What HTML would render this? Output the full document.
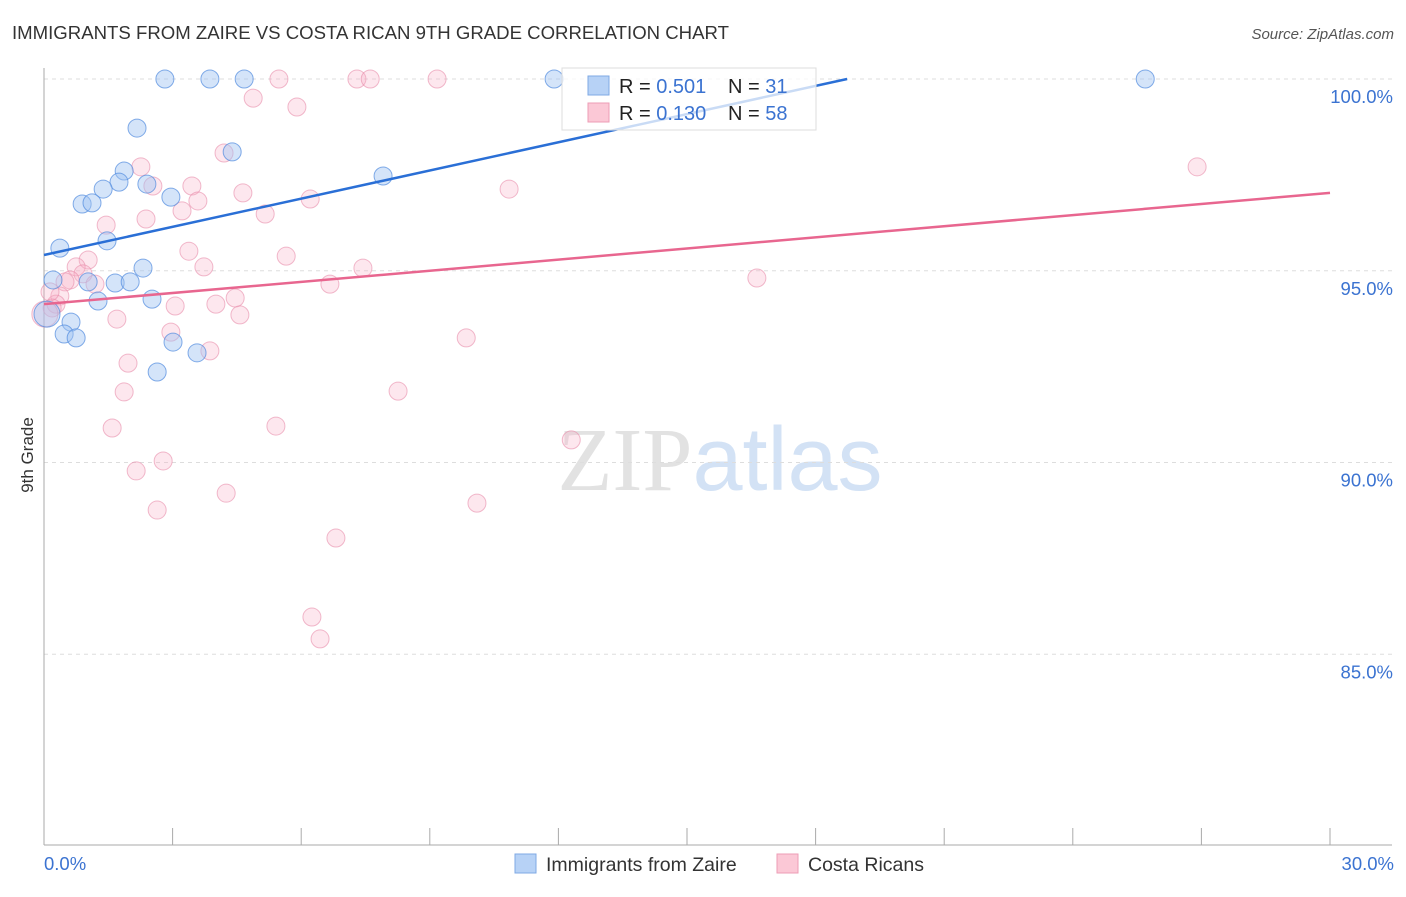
<!DOCTYPE html>
<html><head><meta charset="utf-8"><style>
body{margin:0;background:#fff;font-family:"Liberation Sans",sans-serif;}
svg text{font-family:"Liberation Sans",sans-serif;}
</style></head><body>
<svg id="chart" width="1406" height="892" xmlns="http://www.w3.org/2000/svg">
<text x="12" y="39" font-size="18.6" fill="#333">IMMIGRANTS FROM ZAIRE VS COSTA RICAN 9TH GRADE CORRELATION CHART</text>
<text x="1394" y="39" font-size="15" fill="#555" text-anchor="end" font-style="italic">Source: ZipAtlas.com</text>
<text x="720" y="490" font-size="90" text-anchor="middle"><tspan fill="#e2e2e2" font-family="Liberation Serif">ZIP</tspan><tspan fill="#d3e2f5">atlas</tspan></text>
<g id="grid"></g><g id="axes"></g><g id="pts"></g><g id="trend"></g>
<text transform="translate(33,455) rotate(-90)" font-size="17" fill="#333" text-anchor="middle">9th Grade</text>
<g>
<rect x="562" y="68" width="254" height="62" fill="#fff" fill-opacity="0.75" stroke="#ddd"/>
<rect x="588" y="76" width="21" height="19" fill="#b7d2f6" stroke="#7fa9e4"/>
<rect x="588" y="103" width="21" height="19" fill="#fbc8d6" stroke="#ee9db6"/>
<text x="619" y="93" font-size="20" fill="#222">R = <tspan fill="#3b73d1">0.501</tspan></text>
<text x="728" y="93" font-size="20" fill="#222">N = <tspan fill="#3b73d1"> 31</tspan></text>
<text x="619" y="120" font-size="20" fill="#222">R = <tspan fill="#3b73d1">0.130</tspan></text>
<text x="728" y="120" font-size="20" fill="#222">N = <tspan fill="#3b73d1">58</tspan></text>
</g>
<g>
<rect x="515" y="854" width="21" height="19" fill="#b7d2f6" stroke="#7fa9e4"/>
<text x="546" y="871" font-size="19.5" fill="#333">Immigrants from Zaire</text>
<rect x="777" y="854" width="21" height="19" fill="#fbc8d6" stroke="#ee9db6"/>
<text x="808" y="871" font-size="19.5" fill="#333">Costa Ricans</text>
</g>
</svg>
<script>
const blueX=[2.82,3.87,4.67,11.9,25.69,2.17,4.39,1.87,1.75,2.40,1.38,2.96,7.91,0.89,1.12,1.47,0.37,2.31,0.21,1.03,1.66,2.01,1.26,2.52,0.63,0.47,0.75,3.01,3.57,2.64,0.07];
const blueY=[100,100,100,100,100,98.72,98.10,97.60,97.31,97.26,97.13,96.92,97.47,96.74,96.77,95.78,95.59,95.07,94.76,94.71,94.68,94.71,94.21,94.26,93.66,93.35,93.25,93.14,92.86,92.36,93.87];
const pinkX=[5.48,7.30,7.61,9.17,4.88,5.90,26.90,2.26,4.20,2.54,3.45,4.64,10.85,3.59,6.21,3.22,5.16,2.38,1.45,3.38,5.65,1.03,3.73,7.44,0.75,0.91,0.61,0.49,1.19,0.37,16.63,6.67,4.46,4.01,3.06,0.28,4.57,1.70,2.96,9.85,3.87,1.96,1.87,8.26,5.41,1.59,12.30,2.78,2.15,4.25,10.10,2.64,6.81,6.25,6.44,0.14,0.19,0.02];
const pinkY=[100,100,100,100,99.50,99.27,97.71,97.71,98.07,97.21,97.21,97.03,97.13,96.82,96.87,96.56,96.48,96.35,96.19,95.51,95.38,95.28,95.10,95.07,95.10,94.92,94.76,94.71,94.65,94.34,94.81,94.65,94.29,94.13,94.08,94.13,93.85,93.74,93.40,93.25,92.91,92.59,91.84,91.86,90.95,90.90,90.59,90.04,89.78,89.20,88.94,88.76,88.03,85.97,85.40,94.45,94.03,93.87];
const yTicks=[100,95,90,85];
const yTickLabels=["100.0%","95.0%","90.0%","85.0%"];
const xTicks=[0,3,6,9,12,15,18,21,24,27,30];
const blueTrend=[95.41,0.245];
const pinkTrend=[94.13,0.0967];
const NS="http://www.w3.org/2000/svg";
const sx=v=>44+v/30*1286, sy=v=>79+(100-v)*38.35;
function mk(t,a,p){const e=document.createElementNS(NS,t);for(const k in a)e.setAttribute(k,a[k]);p.appendChild(e);return e;}
const grid=document.getElementById('grid'),axes=document.getElementById('axes'),pts=document.getElementById('pts'),tr=document.getElementById('trend');
yTicks.forEach((v,i)=>{
 const l=mk('line',{x1:44,x2:1392,y1:sy(v),y2:sy(v),stroke:'#ddd','stroke-dasharray':'4,4'},grid);
 
 
 const t=mk('text',{x:1393,y:sy(v)+24,'font-size':18.5,fill:'#3b73d1','text-anchor':'end'},axes);
 t.textContent=yTickLabels[i];
 
 
});
const ya=mk('line',{x1:44,x2:44,y1:68,y2:845,stroke:'#aaa'},axes);


const xa=mk('line',{x1:44,x2:1392,y1:845,y2:845,stroke:'#aaa'},axes);


xTicks.forEach(v=>{const l=mk('line',{x1:sx(v),x2:sx(v),y1:828,y2:845,stroke:'#aaa'},axes);
 
 });
[[0,'0.0%','start',44],[30,'30.0%','end',1394]].forEach(d=>{const t=mk('text',{x:d[3],y:870,'font-size':18.5,fill:'#3b73d1','text-anchor':d[2]},axes);t.textContent=d[1];
 
 });
function dots(X,Y,fill,stroke,name){X.forEach((x,i)=>{const big=x<0.1;const c=mk('circle',{cx:sx(x),cy:sy(Y[i]),r:big?13:9,fill:fill,stroke:stroke,'stroke-width':1},pts);
 
 });}
dots(pinkX,pinkY,'rgba(247,175,198,0.3)','rgba(232,140,170,0.6)','costa-rican-point');
dots(blueX,blueY,'rgba(160,196,242,0.45)','rgba(80,138,222,0.7)','zaire-point');
const bEnd=Math.min(30,(100-blueTrend[0])/blueTrend[1]);
const bl=mk('line',{x1:sx(0),y1:sy(blueTrend[0]),x2:sx(bEnd),y2:sy(blueTrend[0]+blueTrend[1]*bEnd),stroke:'#2a6fd6','stroke-width':2.5},tr);


const pl=mk('line',{x1:sx(0),y1:sy(pinkTrend[0]),x2:sx(30),y2:sy(pinkTrend[0]+pinkTrend[1]*30),stroke:'#e8668f','stroke-width':2.5},tr);


</script>
</body></html>
